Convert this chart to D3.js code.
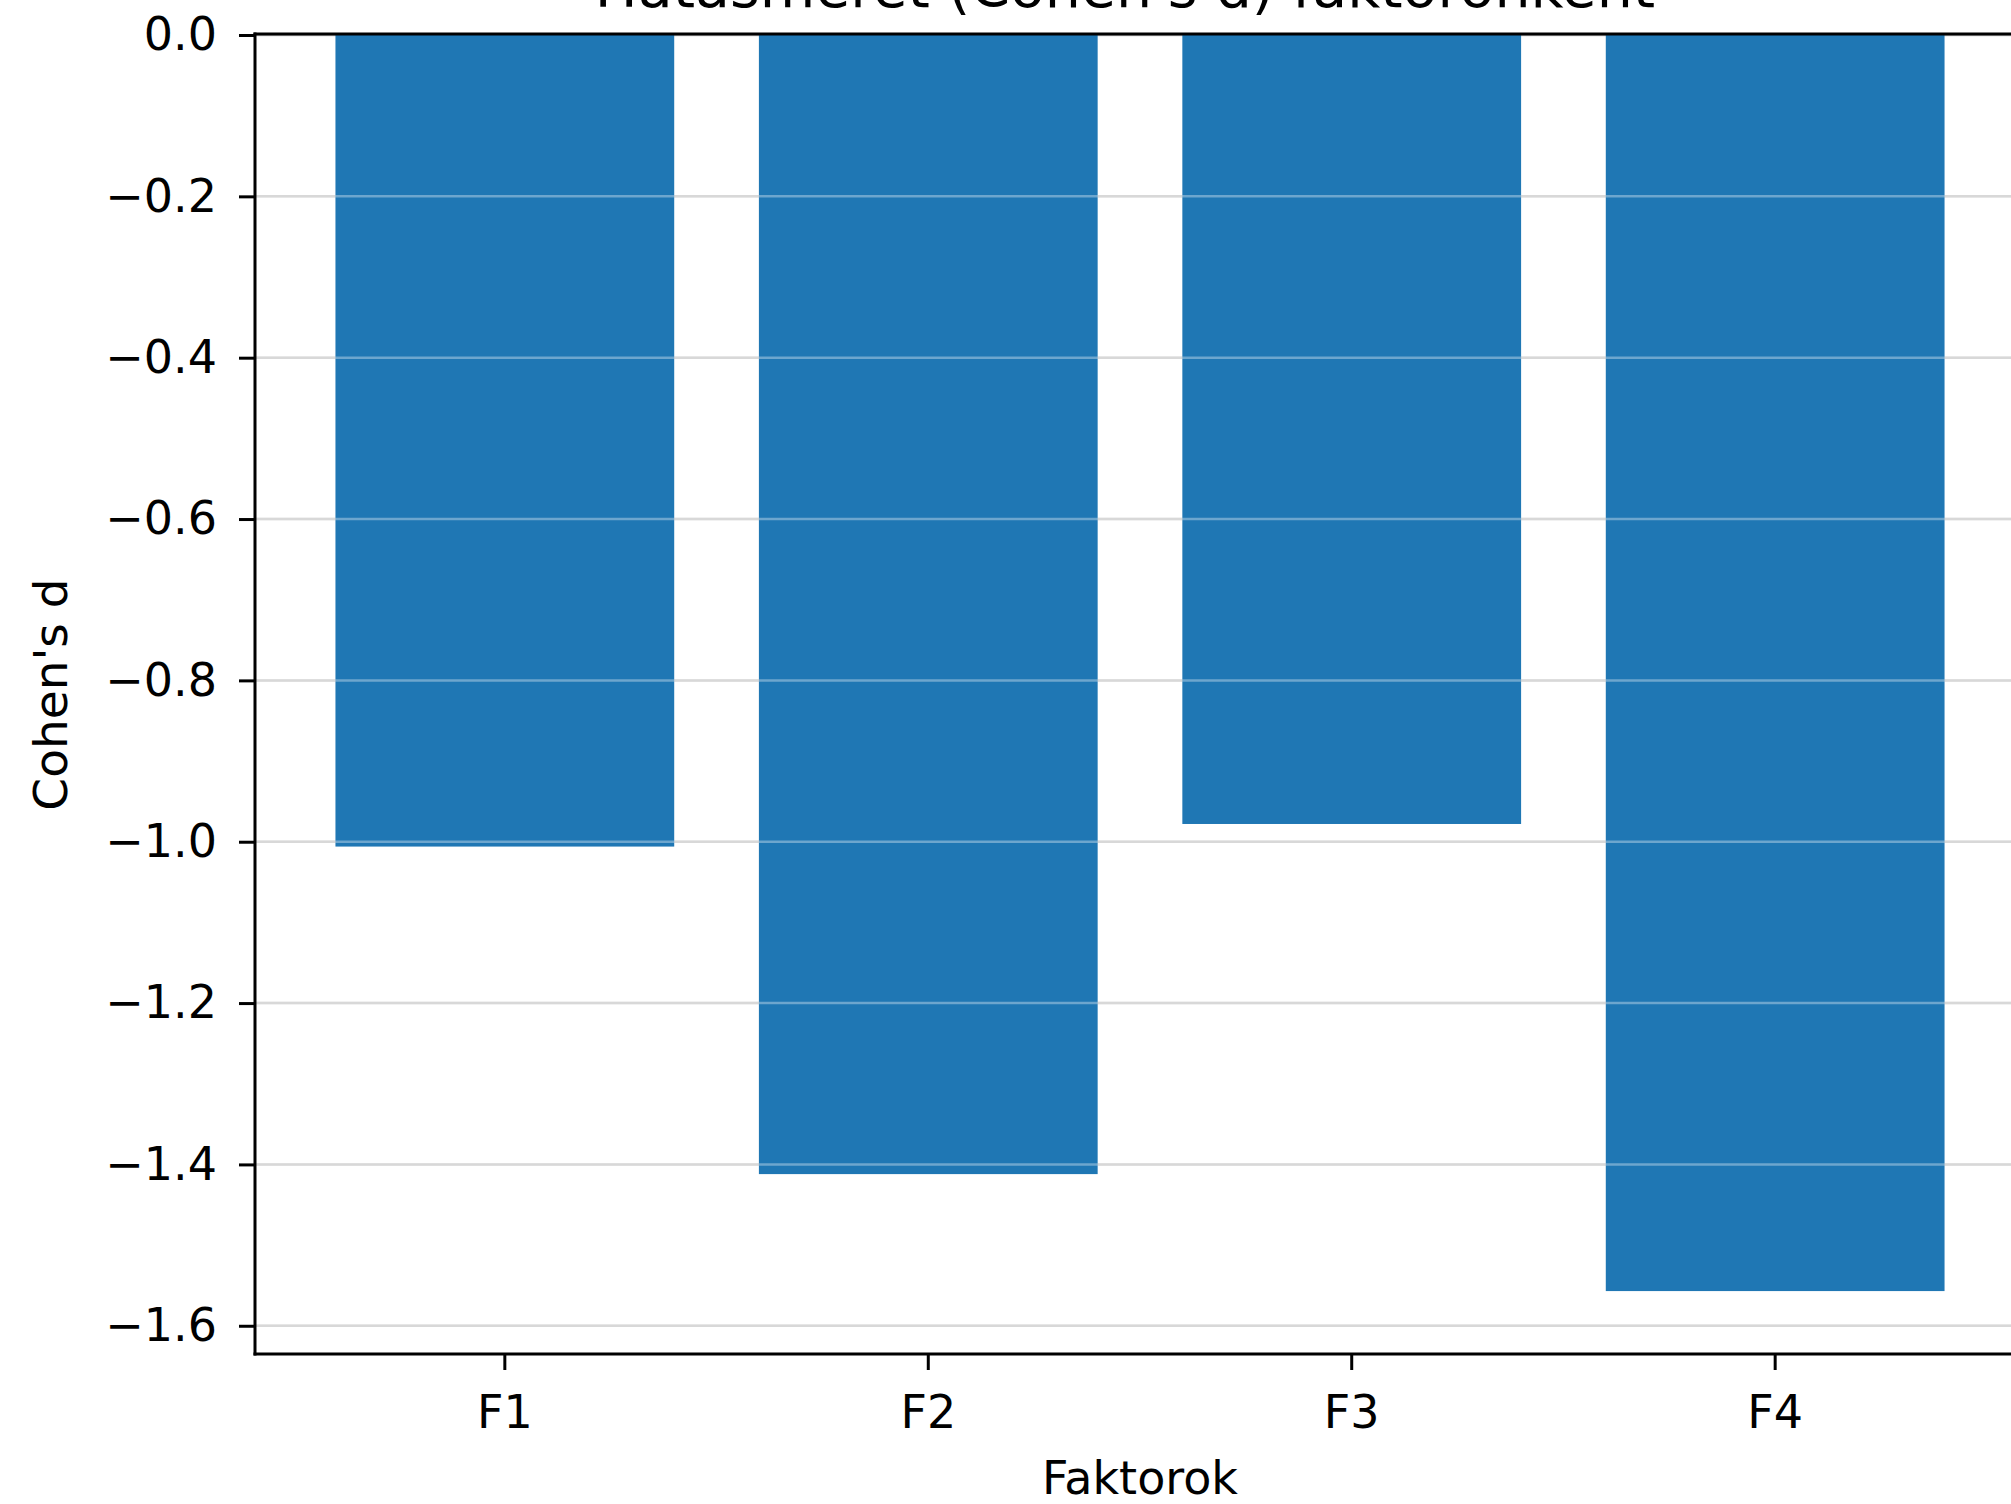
<!DOCTYPE html>
<html>
<head>
<meta charset="utf-8">
<script src="https://cdn.jsdelivr.net/npm/d3@7"></script>
<style>
  html, body { margin: 0; padding: 0; background: #fff; }
  svg { display: block; }
  text { font-family: "DejaVu Sans", sans-serif; fill: #000; }
</style>
</head>
<body>
<svg id="chart" width="2011" height="1504"></svg>
<script>
const categories = ["F1", "F2", "F3", "F4"];
const cohensD = [-1.006, -1.412, -0.978, -1.557];
const yTicks = [0.0, -0.2, -0.4, -0.6, -0.8, -1.0, -1.2, -1.4, -1.6];
const titleText = "Hatásméret (Cohen's d) faktoronként";
const xLabelText = "Faktorok";
const yLabelText = "Cohen's d";

(function () {
const svg = d3.select("#chart");
const pLeft = 255, pRight = 2025, pTop = 35, pBottom = 1354;

const x = d3.scaleBand().domain(categories).range([pLeft, pRight])
  .paddingInner(0.2).paddingOuter(0.19);
const y = d3.scaleLinear().domain([0, -1.635]).range([pTop, pBottom]);

// grid under bars
svg.append("g").selectAll("line").data(yTicks).join("line")
  .attr("x1", pLeft).attr("x2", pRight)
  .attr("y1", d => y(d)).attr("y2", d => y(d))
  .attr("stroke", "#c4c4c4").attr("stroke-width", 2.5);

// bars
svg.append("g").selectAll("rect").data(categories).join("rect")
  .attr("x", d => x(d))
  .attr("width", x.bandwidth())
  .attr("y", y(0))
  .attr("height", (d, i) => y(cohensD[i]) - y(0))
  .attr("fill", "#1f77b4");

// grid over bars (lightened)
svg.append("g").selectAll("line").data(yTicks.filter(d => d !== 0)).join("line")
  .attr("x1", pLeft).attr("x2", pRight)
  .attr("y1", d => y(d)).attr("y2", d => y(d))
  .attr("stroke", "#ffffff").attr("stroke-opacity", 0.35).attr("stroke-width", 2.5);

// y axis
const yAxis = d3.axisLeft(y).tickValues(yTicks).tickFormat(d3.format(".1f"))
  .tickSize(16).tickPadding(22);
const yG = svg.append("g").attr("transform", `translate(${pLeft},0)`).call(yAxis);
yG.select(".domain").remove();
yG.selectAll(".tick line").attr("stroke", "#000").attr("stroke-width", 3);
yG.selectAll(".tick text").attr("font-size", 46).attr("font-family", "DejaVu Sans").attr("fill", "#000");

// x axis
const xAxis = d3.axisBottom(x).tickSize(16).tickPadding(25);
const xG = svg.append("g").attr("transform", `translate(0,${pBottom})`).call(xAxis);
xG.select(".domain").remove();
xG.selectAll(".tick line").attr("stroke", "#000").attr("stroke-width", 3);
xG.selectAll(".tick text").attr("font-size", 46).attr("font-family", "DejaVu Sans").attr("fill", "#000");

// spines
const sp = svg.append("g").attr("stroke", "#000").attr("stroke-width", 3).attr("fill", "none");
sp.append("line").attr("x1", pLeft).attr("x2", pLeft).attr("y1", pTop - 2.5).attr("y2", pBottom + 1.5);
sp.append("line").attr("x1", pLeft - 1.5).attr("x2", pRight).attr("y1", pBottom).attr("y2", pBottom);
sp.append("line").attr("x1", pLeft - 1.5).attr("x2", pRight).attr("y1", pTop - 1).attr("y2", pTop - 1);
sp.append("line").attr("x1", pRight).attr("x2", pRight).attr("y1", pTop).attr("y2", pBottom);

// title (cut at top, as in the reference)
svg.append("text").attr("x", 1125).attr("y", 7)
  .attr("text-anchor", "middle").attr("font-size", 57).text(titleText);

// axis labels
svg.append("text").attr("x", (pLeft + pRight) / 2).attr("y", 1494)
  .attr("text-anchor", "middle").attr("font-size", 46).text(xLabelText);
svg.append("text").attr("transform", `translate(67,${(pTop + pBottom) / 2}) rotate(-90)`)
  .attr("text-anchor", "middle").attr("font-size", 47).text(yLabelText);
})();
</script>
</body>
</html>
